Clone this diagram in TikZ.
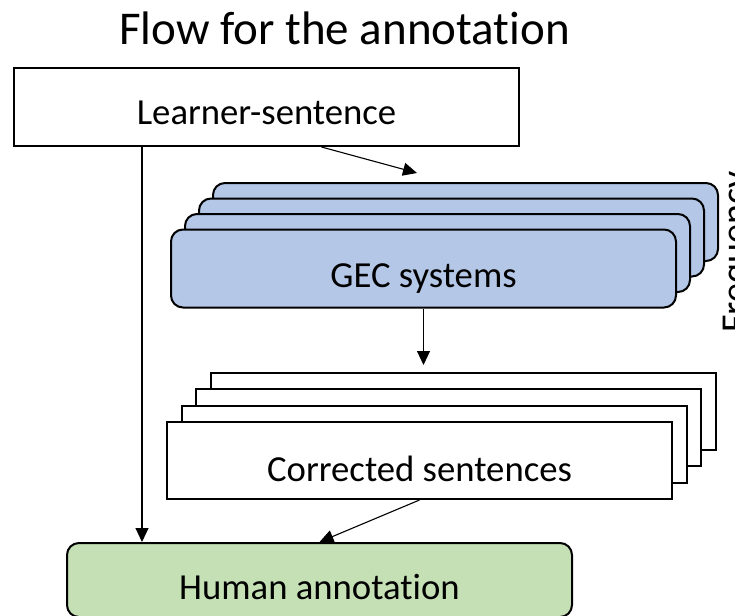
\documentclass[tikz,border=0pt]{standalone}
\usepackage{xcolor}
\definecolor{gecBlue}{HTML}{B4C7E7}
\definecolor{humanGreen}{HTML}{C5E0B4}
\usepackage{fontspec}
\setmainfont{Carlito}[Ligatures=NoCommon]
\usepackage{tikz}
\usetikzlibrary{%
    shapes,
    arrows.meta,
    positioning,
    calc
}

\begin{document}
\begin{tikzpicture}[x=1pt, y=-1pt,
                sentence/.style={rectangle, minimum width=505pt, minimum height=78pt, text centered, fill=white, draw, line width=2pt, font=\fontsize{36.7}{44}\selectfont, text height=35pt, text depth=0pt},
                system/.style={sentence, rounded corners=12pt, fill=gecBlue},
                annot/.style={sentence, rounded corners=12pt, fill=humanGreen},
                flow/.style={draw, line width=1.1pt, -{Triangle[length=14pt, width=13pt]}}
            ]

            \useasboundingbox (0,0) rectangle (735,615);

            \node (title) [anchor=base, font=\fontsize{47}{56}\selectfont] at (344.5,45) {Flow for the annotation};

            \node (learner) [sentence] at (266.5,107) {Learner-sentence};

            % GEC systems, back layers first
            \coordinate (gecfront) at (423.5,268.5);
            \foreach \i in {3,2,1}
                \node (gec\i) [system] at ($(gecfront)+(14*\i,-15.5*\i)$) {};
            \node (gec) [system, text height=38pt] at (gecfront) {GEC systems};

            % corrected sentences, back layers first
            \coordinate (corrfront) at (419.5,460.5);
            \foreach \i in {3,2,1}
                \node (corr\i) [sentence, minimum height=77pt] at ($(corrfront)+(14.5*\i,-16.5*\i)$) {};
            \node (corr) [sentence, minimum height=77pt, text height=42pt] at (corrfront) {Corrected sentences};

            \node (human) [annot, minimum height=74pt, text height=38pt] at (319.5,580) {Human annotation};

            \node (freq) [rotate=90, anchor=base, font=\fontsize{38}{46}\selectfont] at (747,252) {Frequency};

            \draw [flow] ([xshift=-124.5pt]learner.south) -- ([xshift=-124.5pt]learner.south |- human.north);
            \draw [flow] ([xshift=55pt]learner.south) -- ($(gec3.north)+(-48.5,-9)$);
            \draw [flow, shorten >=6.5pt] (gec.south) -- (gec.south |- corr3.north);
            \draw [flow] (corr.south) -- (human.north);
        \end{tikzpicture}
\end{document}
